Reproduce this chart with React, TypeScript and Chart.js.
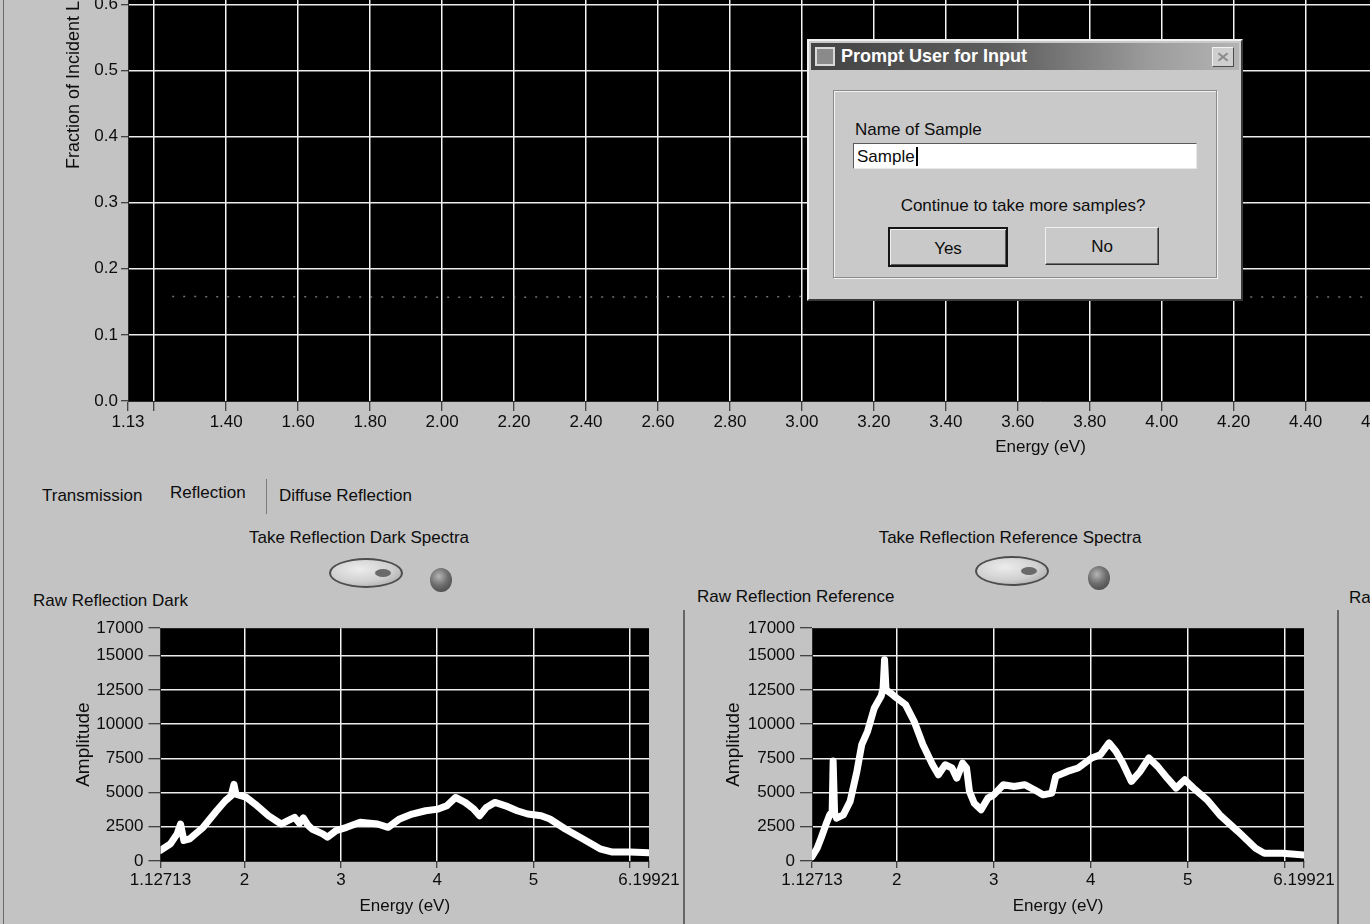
import { useEffect, useRef } from 'react';
import type { CSSProperties } from 'react';
import { Chart, registerables } from 'chart.js';

Chart.register(...registerables);

const UI_FONT = '"Liberation Sans", Arial, Helvetica, sans-serif';
const PANEL = '#c3c3c3';
const INK = '#0d0d0d';

// Fraction of incident light graph (top)
const fractionEnergyTicks = [1.12713, 1.2, 1.4, 1.6, 1.8, 2.0, 2.2, 2.4, 2.6, 2.8, 3.0, 3.2, 3.4, 3.6, 3.8, 4.0, 4.2, 4.4, 4.6, 4.8, 5.0, 5.2, 5.4, 5.6, 5.8, 6.0, 6.19921];
const fractionEnergyLabels = ['1.13', '', '1.40', '1.60', '1.80', '2.00', '2.20', '2.40', '2.60', '2.80', '3.00', '3.20', '3.40', '3.60', '3.80', '4.00', '4.20', '4.40', '4.60', '4.80', '5.00', '5.20', '5.40', '5.60', '5.80', '6.00', '6.20'];
const fractionTicks = [0, 0.1, 0.2, 0.3, 0.4, 0.5, 0.6, 0.7, 0.8, 0.9, 1.0];
const fractionTickLabels = ['0.0', '0.1', '0.2', '0.3', '0.4', '0.5', '0.6', '0.7', '0.8', '0.9', '1.0'];
const fractionEnergy = [1.25, 2.1, 3.05, 4.0, 5.1, 6.19921];
const fractionValue = [0.158, 0.157, 0.158, 0.157, 0.158, 0.157];

// Raw reflection spectra graphs (bottom)
const spectrumEnergyTicks = [1.12713, 2, 3, 4, 5, 6, 6.19921];
const spectrumEnergyLabels = ['1.12713', '2', '3', '4', '5', '', '6.19921'];
const amplitudeTicks = [0, 2500, 5000, 7500, 10000, 12500, 15000, 17000];
const amplitudeTickLabels = ['0', '2500', '5000', '7500', '10000', '12500', '15000', '17000'];

const darkEnergy = [1.12713, 1.23, 1.3, 1.335, 1.37, 1.43, 1.57, 1.71, 1.8, 1.86, 1.89, 1.91, 2.02, 2.11, 2.25, 2.38, 2.45, 2.52, 2.57, 2.61, 2.66, 2.7, 2.81, 2.86, 2.95, 3.06, 3.2, 3.38, 3.49, 3.61, 3.74, 3.88, 4.01, 4.1, 4.19, 4.29, 4.38, 4.44, 4.51, 4.6, 4.71, 4.83, 4.94, 5.08, 5.17, 5.33, 5.51, 5.69, 5.82, 6.0, 6.19921];
const darkAmplitude = [770, 1250, 1980, 2700, 1500, 1620, 2460, 3670, 4400, 4760, 5600, 4880, 4640, 4150, 3300, 2700, 2950, 3190, 2750, 3150, 2600, 2340, 1980, 1740, 2220, 2460, 2830, 2700, 2460, 3070, 3430, 3670, 3790, 4030, 4640, 4280, 3790, 3300, 3910, 4280, 4030, 3670, 3430, 3300, 3070, 2340, 1620, 890, 650, 650, 600];

const referenceEnergy = [1.12713, 1.18, 1.22, 1.27, 1.31, 1.335, 1.345, 1.36, 1.38, 1.45, 1.52, 1.59, 1.64, 1.7, 1.77, 1.84, 1.86, 1.875, 1.89, 1.93, 2.0, 2.09, 2.18, 2.27, 2.37, 2.43, 2.5, 2.57, 2.62, 2.68, 2.72, 2.75, 2.8, 2.87, 2.94, 3.0, 3.1, 3.21, 3.32, 3.42, 3.51, 3.6, 3.64, 3.76, 3.87, 4.01, 4.1, 4.19, 4.26, 4.33, 4.42, 4.51, 4.6, 4.69, 4.79, 4.88, 4.97, 5.06, 5.2, 5.33, 5.52, 5.7, 5.79, 5.98, 6.19921];
const referenceAmplitude = [320, 930, 1660, 2640, 3370, 3610, 7300, 3500, 3130, 3370, 4350, 6540, 8500, 9470, 11180, 12040, 12600, 14700, 12500, 12300, 11900, 11430, 10200, 8500, 7030, 6300, 7030, 6790, 6050, 7150, 6800, 5080, 4220, 3740, 4590, 4830, 5570, 5440, 5570, 5200, 4830, 4960, 6180, 6540, 6790, 7520, 7760, 8620, 8010, 7150, 5810, 6540, 7520, 6910, 6050, 5320, 5930, 5320, 4470, 3370, 2150, 930, 560, 560, 440];

const toPoints = (xs: number[], ys: number[]) => xs.map((x, i) => ({ x, y: ys[i] }));

// Paints the plot area black before the grid is drawn
const plotBackground = {
  id: 'plotBackground',
  beforeDraw(chart: Chart) {
    const { ctx, chartArea: a } = chart;
    ctx.save();
    ctx.fillStyle = '#000000';
    ctx.fillRect(a.left, a.top, a.right - a.left, a.bottom - a.top);
    ctx.restore();
  },
};

type GraphSpec = {
  left: number;
  top: number;
  width: number;
  height: number;
  padLeft: number;
  padTop: number;
  padRight: number;
  yAxisWidth: number;
  xAxisHeight: number;
  xTicks: number[];
  xLabels: string[];
  xTickLength: number;
  xTickPadding: number;
  xTitlePadding: number;
  yTicks: number[];
  yLabels: string[];
  yTickLength: number;
  yTickPadding: number;
  yTitle: string;
  yTitleSize: number;
  yTitlePadding: number;
  datasets: any[];
};

function Graph({ spec }: { spec: GraphSpec }) {
  const ref = useRef<HTMLCanvasElement | null>(null);

  useEffect(() => {
    if (!ref.current) return;
    const s = spec;
    const xFirst = s.xTicks[0];
    const xLast = s.xTicks[s.xTicks.length - 1];
    const yFirst = s.yTicks[0];
    const yLast = s.yTicks[s.yTicks.length - 1];
    const tickFont = { family: UI_FONT, size: 17 };

    const chart = new Chart(ref.current, {
      type: 'line',
      data: { datasets: s.datasets },
      options: {
        responsive: false,
        animation: false,
        devicePixelRatio: 1,
        events: [],
        layout: { padding: { left: s.padLeft, top: s.padTop, right: s.padRight, bottom: 0 } },
        plugins: { legend: { display: false }, tooltip: { enabled: false } },
        elements: { point: { radius: 0 }, line: { tension: 0 } },
        scales: {
          x: {
            type: 'linear',
            min: xFirst,
            max: xLast,
            afterBuildTicks: (axis: any) => {
              axis.ticks = s.xTicks.map((value) => ({ value }));
            },
            afterFit: (axis: any) => {
              axis.height = s.xAxisHeight;
            },
            ticks: {
              autoSkip: false,
              maxRotation: 0,
              minRotation: 0,
              padding: s.xTickPadding,
              color: INK,
              font: tickFont,
              callback: (_v: any, i: number) => s.xLabels[i],
            },
            grid: {
              color: (c: any) =>
                c.tick && (c.tick.value === xFirst || c.tick.value === xLast) ? 'rgba(0,0,0,0)' : '#f4f4f4',
              lineWidth: 1.5,
              tickLength: s.xTickLength,
              tickColor: '#1a1a1a',
              tickWidth: 1,
            },
            border: { display: true, color: '#2a2a2a', width: 1 },
            title: {
              display: true,
              text: 'Energy (eV)',
              color: INK,
              font: { family: UI_FONT, size: 17 },
              padding: { top: 0, bottom: s.xTitlePadding },
            },
          },
          y: {
            type: 'linear',
            min: yFirst,
            max: yLast,
            afterBuildTicks: (axis: any) => {
              axis.ticks = s.yTicks.map((value) => ({ value }));
            },
            afterFit: (axis: any) => {
              axis.width = s.yAxisWidth;
            },
            ticks: {
              autoSkip: false,
              padding: s.yTickPadding,
              color: INK,
              font: tickFont,
              callback: (_v: any, i: number) => s.yLabels[i],
            },
            grid: {
              color: (c: any) =>
                c.tick && (c.tick.value === yFirst || c.tick.value === yLast) ? 'rgba(0,0,0,0)' : '#ececec',
              lineWidth: 1.5,
              tickLength: s.yTickLength,
              tickColor: '#1a1a1a',
              tickWidth: 1,
            },
            border: { display: true, color: '#2a2a2a', width: 1 },
            title: {
              display: true,
              text: s.yTitle,
              color: INK,
              font: { family: UI_FONT, size: s.yTitleSize },
              padding: { top: s.yTitlePadding, bottom: 0 },
            },
          },
        },
      },
      plugins: [plotBackground],
    } as any);

    return () => chart.destroy();
  }, [spec]);

  return (
    <canvas
      ref={ref}
      width={spec.width}
      height={spec.height}
      style={{ position: 'absolute', left: spec.left, top: spec.top }}
    />
  );
}

const spectrumLine = (points: { x: number; y: number }[]) => ({
  data: points,
  borderColor: '#ffffff',
  borderWidth: 7,
  borderJoinStyle: 'round',
  borderCapStyle: 'round',
  pointRadius: 0,
  fill: false,
});

const fractionGraph: GraphSpec = {
  left: 0,
  top: -280,
  width: 1993,
  height: 741,
  padLeft: 59,
  padTop: 20,
  padRight: 40,
  yAxisWidth: 69,
  xAxisHeight: 60,
  xTicks: fractionEnergyTicks,
  xLabels: fractionEnergyLabels,
  xTickLength: 10,
  xTickPadding: 1,
  xTitlePadding: 3,
  yTicks: fractionTicks,
  yLabels: fractionTickLabels,
  yTickLength: 7,
  yTickPadding: 3,
  yTitle: 'Fraction of Incident Light',
  yTitleSize: 18,
  yTitlePadding: 4,
  datasets: [
    {
      data: toPoints(fractionEnergy, fractionValue),
      borderColor: 'rgba(190,190,190,0.6)',
      borderWidth: 1.5,
      borderDash: [2, 9],
      pointRadius: 0,
      fill: false,
    },
  ],
};

const darkGraph: GraphSpec = {
  left: 0,
  top: 613,
  width: 694,
  height: 308,
  padLeft: 68,
  padTop: 14,
  padRight: 45,
  yAxisWidth: 92.5,
  xAxisHeight: 60,
  xTicks: spectrumEnergyTicks,
  xLabels: spectrumEnergyLabels,
  xTickLength: 7,
  xTickPadding: 2,
  xTitlePadding: 4,
  yTicks: amplitudeTicks,
  yLabels: amplitudeTickLabels,
  yTickLength: 12,
  yTickPadding: 5,
  yTitle: 'Amplitude',
  yTitleSize: 19,
  yTitlePadding: 4,
  datasets: [spectrumLine(toPoints(darkEnergy, darkAmplitude))],
};

const referenceGraph: GraphSpec = {
  ...darkGraph,
  left: 650,
  width: 699,
  yAxisWidth: 94,
  datasets: [spectrumLine(toPoints(referenceEnergy, referenceAmplitude))],
};

function Text({
  x,
  y,
  children,
  size = 17,
  weight = 400,
  color = INK,
  center = false,
}: {
  x: number;
  y: number;
  children: string;
  size?: number;
  weight?: number;
  color?: string;
  center?: boolean;
}) {
  const style: CSSProperties = {
    position: 'absolute',
    left: x,
    top: y,
    transform: center ? 'translate(-50%, -50%)' : 'translateY(-50%)',
    fontSize: size,
    fontWeight: weight,
    lineHeight: 1,
    whiteSpace: 'nowrap',
    color,
  };
  return <div style={style}>{children}</div>;
}

function OvalButton({ cx, cy }: { cx: number; cy: number }) {
  return (
    <div
      style={{
        position: 'absolute',
        left: cx - 37,
        top: cy - 15,
        width: 74,
        height: 30,
        boxSizing: 'border-box',
        borderRadius: '50%',
        border: '2px solid #4d4d4d',
        background: 'radial-gradient(ellipse at 40% 35%, #ececec 0%, #cfcfcf 55%, #9c9c9c 100%)',
      }}
    >
      <div
        style={{
          position: 'absolute',
          left: 44,
          top: 9,
          width: 16,
          height: 8,
          borderRadius: '50%',
          background: '#6a6a6a',
        }}
      />
    </div>
  );
}

function Led({ cx, cy }: { cx: number; cy: number }) {
  return (
    <div
      style={{
        position: 'absolute',
        left: cx - 11,
        top: cy - 12,
        width: 22,
        height: 24,
        borderRadius: '50%',
        background: 'radial-gradient(circle at 40% 35%, #b5b5b5 0%, #6e6e6e 45%, #3c3c3c 100%)',
      }}
    />
  );
}

function VLine({ x, y1, y2, color = '#666666', width = 2 }: { x: number; y1: number; y2: number; color?: string; width?: number }) {
  return <div style={{ position: 'absolute', left: x, top: y1, width, height: y2 - y1, background: color }} />;
}

function PromptDialog() {
  const base: CSSProperties = { position: 'absolute', boxSizing: 'border-box' };
  return (
    <div
      style={{
        ...base,
        left: 807,
        top: 39,
        width: 436,
        height: 262,
        background: '#c9c9c9',
        border: '2px solid',
        borderColor: '#f0f0f0 #3a3a3a #3a3a3a #f0f0f0',
        zIndex: 5,
      }}
    >
      <div
        style={{
          ...base,
          left: 2,
          top: 2,
          width: 428,
          height: 27,
          background: 'linear-gradient(90deg, #434343 0%, #5e5e5e 45%, #9d9d9d 80%, #b4b4b4 100%)',
        }}
      >
        <div
          style={{
            ...base,
            left: 4,
            top: 4,
            width: 20,
            height: 19,
            border: '2px solid #d8d8d8',
            background: '#8a8a8a',
          }}
        />
        <div style={{ ...base, left: 30, top: 13, transform: 'translateY(-50%)', color: '#ffffff', fontSize: 18, fontWeight: 700, lineHeight: 1, whiteSpace: 'nowrap' }}>
          Prompt User for Input
        </div>
        <div
          style={{
            ...base,
            left: 401,
            top: 4,
            width: 22,
            height: 20,
            background: '#cfcfcf',
            border: '1px solid',
            borderColor: '#f2f2f2 #4a4a4a #4a4a4a #f2f2f2',
          }}
        >
          <div style={{ ...base, left: 4, top: 8, width: 12, height: 2, background: '#8c8c8c', transform: 'rotate(40deg)' }} />
          <div style={{ ...base, left: 4, top: 8, width: 12, height: 2, background: '#8c8c8c', transform: 'rotate(-40deg)' }} />
        </div>
      </div>

      <div
        style={{
          ...base,
          left: 24,
          top: 49,
          width: 384,
          height: 188,
          border: '1px solid #8a8a8a',
          boxShadow: '1px 1px 0 #f2f2f2, inset 1px 1px 0 #f2f2f2',
        }}
      />

      <Text x={46} y={88}>Name of Sample</Text>
      <div
        style={{
          ...base,
          left: 44,
          top: 102,
          width: 344,
          height: 26,
          background: '#ffffff',
          border: '1px solid',
          borderColor: '#5a5a5a #e8e8e8 #e8e8e8 #5a5a5a',
        }}
      >
        <div style={{ position: 'absolute', left: 3, top: 12, transform: 'translateY(-50%)', fontSize: 17, lineHeight: 1, color: INK, whiteSpace: 'nowrap' }}>
          Sample
        </div>
        <div style={{ ...base, left: 62, top: 3, width: 2, height: 19, background: '#000000' }} />
      </div>

      <Text x={214} y={164} center>
        Continue to take more samples?
      </Text>

      <div
        style={{
          ...base,
          left: 79,
          top: 186,
          width: 120,
          height: 40,
          border: '2px solid #151515',
          boxShadow: 'inset 1px 1px 0 #f0f0f0, inset -1px -1px 0 #5a5a5a',
          background: '#c9c9c9',
        }}
      >
        <Text x={58} y={19} center>
          Yes
        </Text>
      </div>
      <div
        style={{
          ...base,
          left: 236,
          top: 186,
          width: 114,
          height: 38,
          border: '1px solid',
          borderColor: '#f0f0f0 #2e2e2e #2e2e2e #f0f0f0',
          boxShadow: 'inset -1px -1px 0 #707070',
          background: '#c9c9c9',
        }}
      >
        <Text x={56} y={18} center>
          No
        </Text>
      </div>
    </div>
  );
}

export default function App() {
  return (
    <div
      style={{
        position: 'fixed',
        left: 0,
        top: 0,
        width: 1370,
        height: 924,
        overflow: 'hidden',
        background: PANEL,
        fontFamily: UI_FONT,
      }}
    >
      <Graph spec={fractionGraph} />

      <VLine x={3} y1={0} y2={924} color="#6a6a6a" width={1} />

      <Text x={42} y={495}>Transmission</Text>
      <Text x={170} y={492}>Reflection</Text>
      <VLine x={266} y1={479} y2={514} color="#7a7a7a" width={1} />
      <Text x={279} y={495}>Diffuse Reflection</Text>

      <Text x={359} y={537} center>
        Take Reflection Dark Spectra
      </Text>
      <OvalButton cx={366} cy={573} />
      <Led cx={441} cy={580} />

      <Text x={1010} y={537} center>
        Take Reflection Reference Spectra
      </Text>
      <OvalButton cx={1012} cy={571} />
      <Led cx={1099} cy={578} />

      <Text x={33} y={600}>Raw Reflection Dark</Text>
      <Text x={697} y={596}>Raw Reflection Reference</Text>
      <Text x={1349} y={597}>Raw Reflection Sample</Text>

      <VLine x={683} y1={610} y2={924} />
      <VLine x={1337} y1={610} y2={924} />

      <Graph spec={darkGraph} />
      <Graph spec={referenceGraph} />

      <PromptDialog />
    </div>
  );
}
